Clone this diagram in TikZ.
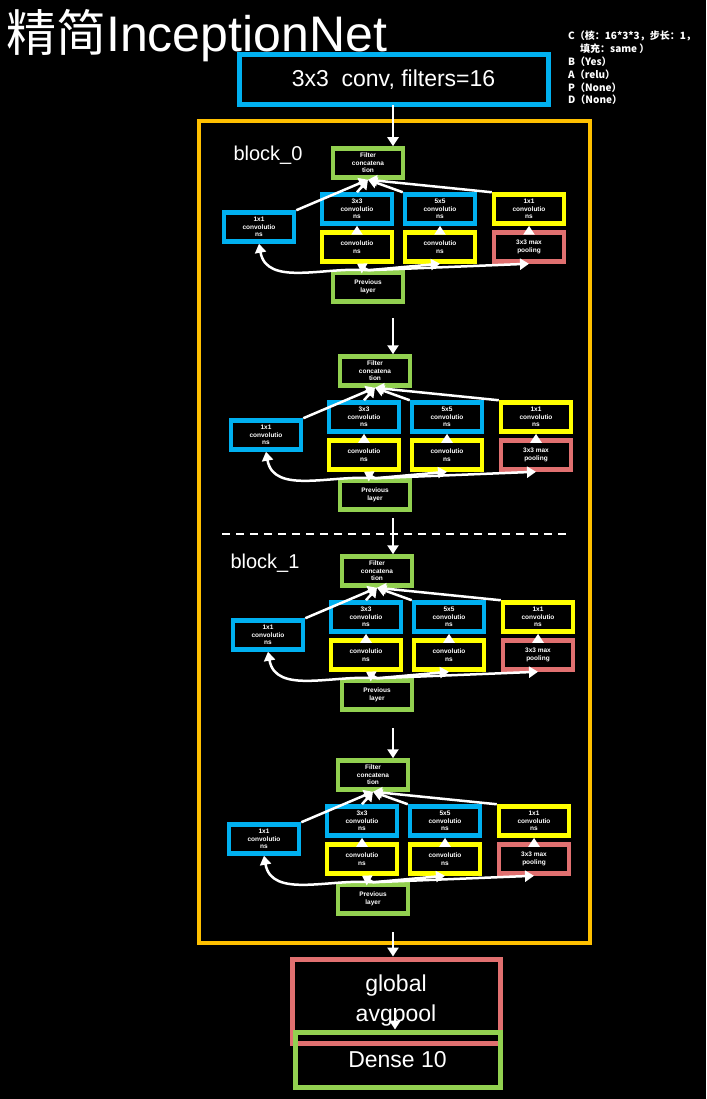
\documentclass[tikz,border=0pt]{standalone}
\usepackage{fontspec}
\setmainfont{Liberation Sans}
\newfontfamily\cjk{Noto Sans CJK SC}
\usetikzlibrary{arrows.meta}
\definecolor{cb}{HTML}{00B0F0}
\definecolor{cy}{HTML}{FFFF00}
\definecolor{cg}{HTML}{92D050}
\definecolor{cr}{HTML}{E07070}
\definecolor{co}{HTML}{FFC000}
\tikzset{
 sb/.style={draw=#1,line width=4.5pt,minimum width=70pt,minimum height=29pt,inner sep=0pt,align=center,text=white,font=\fontsize{6.5}{7.5}\selectfont\bfseries},
 ar/.style={draw=white,line width=2.5pt,-{Triangle[length=9pt,width=11pt]}},
 big/.style={draw=#1,line width=5pt,inner sep=0pt,align=center,text=white,font=\fontsize{23}{30}\selectfont},
}
\newcommand\incblock[3]{%
\begin{scope}[shift={(#1,#2)}]
 \node[sb=cg] (#3f) at (368,163) {Filter\\concatena\\tion};
 \node[sb=cb] (#3a) at (357,209) {3x3\\convolutio\\ns};
 \node[sb=cb] (#3b) at (440,209) {5x5\\convolutio\\ns};
 \node[sb=cy] (#3c) at (529,209) {1x1\\convolutio\\ns};
 \node[sb=cb] (#3l) at (259,227) {1x1\\convolutio\\ns};
 \node[sb=cy] (#3d) at (357,247) {convolutio\\ns};
 \node[sb=cy] (#3e) at (440,247) {convolutio\\ns};
 \node[sb=cr] (#3m) at (529,247) {3x3 max\\pooling};
 \node[sb=cg] (#3p) at (368,287) {Previous\\layer};
 \draw[ar] (#3p.north) to[out=175,in=-80] (#3l.south);
 \draw[ar] (#3p.north) -- (#3e.south);
 \draw[ar] (#3p.north) -- (#3m.south);
 \draw[ar] (#3p.north) -- (#3d.south);
 \draw[ar] (#3d.north) -- (#3a.south);
 \draw[ar] (#3e.north) -- (#3b.south);
 \draw[ar] (#3m.north) -- (#3c.south);
 \draw[ar] (#3l.north east) -- (#3f.south);
 \draw[ar] (#3a.north) -- (#3f.south);
 \draw[ar] (#3b.north west) -- (#3f.south);
 \draw[ar] (#3c.north west) -- (#3f.south);
\end{scope}}
\begin{document}
\begin{tikzpicture}[x=1pt,y=-1pt]
\fill[black] (0,0) rectangle (706,1099);
\useasboundingbox (0,0) rectangle (706,1099);
\node[text=white,anchor=west,font=\fontsize{50}{52}\selectfont,inner sep=0pt] (title) at (6,36) {{\cjk 精简}InceptionNet};
\node[text=white,anchor=north west,align=left,inner sep=0pt,font=\fontsize{10}{12.8}\selectfont\bfseries\cjk] (leg) at (568,31) {C（核：16*3*3，步长：1，\\\hspace{1.2em}填充：same ）\\B（Yes）\\A（relu）\\P（None）\\D（None）};
\node[big=cb,minimum width=309pt,minimum height=50pt] (conv) at (393.5,80) {3x3\ \ conv, filters=16};
\node[draw=co,line width=4pt,minimum width=391pt,minimum height=822pt,inner sep=0pt] (frame) at (394.5,532) {};
\node[text=white,font=\fontsize{20}{21}\selectfont] (b0) at (268,155) {block\_0};
\node[text=white,font=\fontsize{20}{21}\selectfont] (b1) at (265,563) {block\_1};
\draw[white,line width=1.5pt,dash pattern=on 8pt off 6pt] (222,534) -- (568,534);
\incblock{0}{0}{A}
\incblock{7}{208}{B}
\incblock{9}{408}{C}
\incblock{5}{612}{D}
\node[big=cr,minimum width=208pt,minimum height=84pt] (gap) at (396,1001) {global\\avgpool};
\node[big=cg,minimum width=205pt,minimum height=55pt] (dense) at (397.5,1059.5) {Dense 10};
\coordinate (s0) at (393,105);
\coordinate (s1) at (393,318);
\coordinate (s2) at (393,518);
\coordinate (s3) at (393,728);
\coordinate (s4) at (393,932);
\coordinate (s5) at (395,1008);
\draw[ar] (s0) -- (s0|-Af.north);
\draw[ar] (s1) -- (s1|-Bf.north);
\draw[ar] (s2) -- (s2|-Cf.north);
\draw[ar] (s3) -- (s3|-Df.north);
\draw[ar] (s4) -- (s4|-gap.north);
\draw[ar] (s5) -- (s5|-dense.north);
\end{tikzpicture}
\end{document}
